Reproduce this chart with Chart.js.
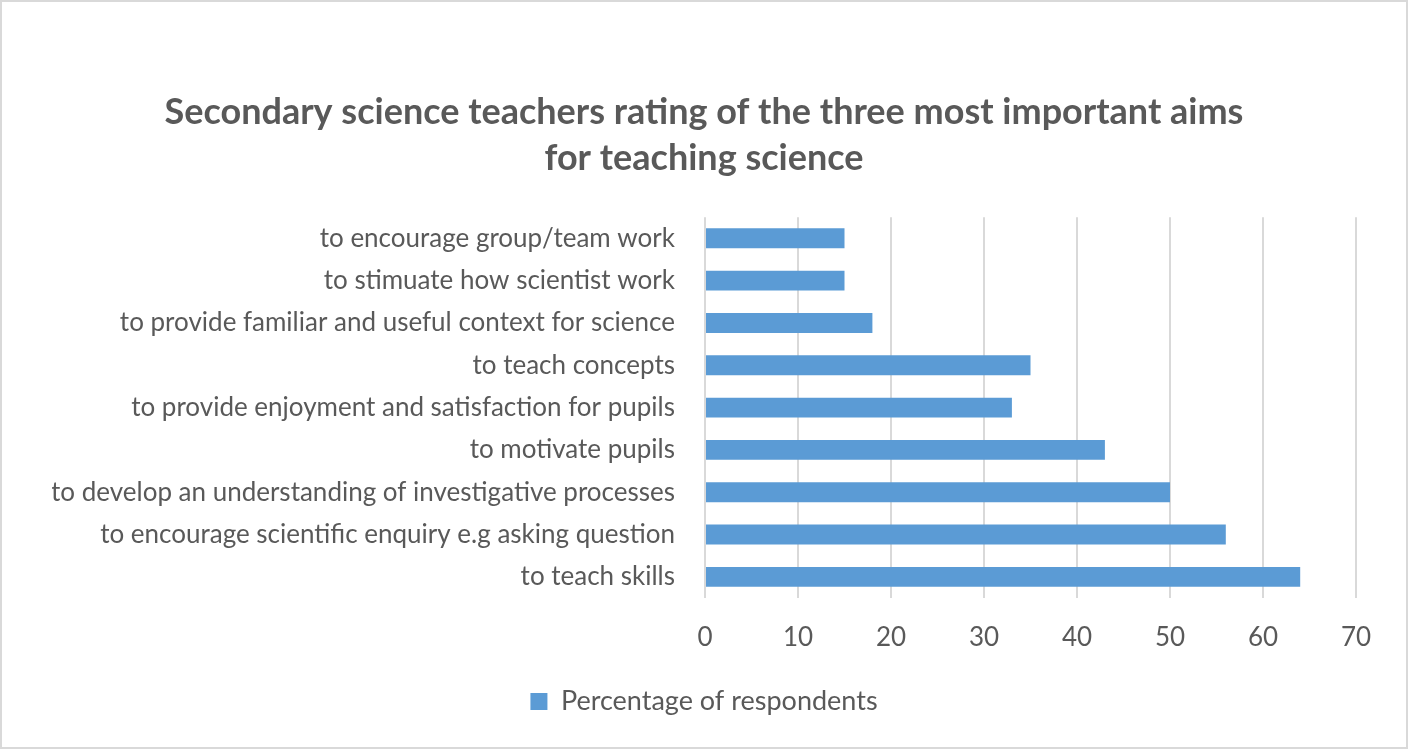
<!DOCTYPE html>
<html>
<head>
<meta charset="utf-8">
<script src="https://cdn.jsdelivr.net/npm/chart.js@4.4.1/dist/chart.umd.min.js"></script>
<style>
  html, body { margin: 0; padding: 0; background: #fff; }
  #wrap { width: 1408px; height: 749px; position: relative; }
</style>
</head>
<body>
<div id="wrap"><canvas id="c" width="1408" height="749"></canvas></div>
<script>
// categories, top to bottom as in the picture
const aims = [
  'to encourage group/team work',
  'to stimuate how scientist work',
  'to provide familiar and useful context for science',
  'to teach concepts',
  'to provide enjoyment and satisfaction for pupils',
  'to motivate pupils',
  'to develop an understanding of investigative processes',
  'to encourage scientific enquiry e.g asking question',
  'to teach skills'
];
const percentRespondents = [15, 15, 18, 35, 33, 43, 50, 56, 64];
const xTicks = [0, 10, 20, 30, 40, 50, 60, 70];

const grey = '#595959';
const font = "Lato, 'Liberation Sans', sans-serif";

// light grey frame round the whole chart
const frame = {
  id: 'frame',
  afterDraw(chart) {
    const ctx = chart.ctx;
    ctx.save();
    ctx.strokeStyle = '#d9d9d9';
    ctx.lineWidth = 2;
    ctx.strokeRect(1, 1, chart.width - 2, chart.height - 2);
    ctx.restore();
  }
};

Chart.defaults.font.family = font;
Chart.defaults.color = grey;

new Chart(document.getElementById('c'), {
  type: 'bar',
  data: {
    labels: aims,
    datasets: [{
      label: 'Percentage of respondents',
      data: percentRespondents,
      backgroundColor: '#5b9bd5',
      barPercentage: 0.47,
      categoryPercentage: 1.0
    }]
  },
  options: {
    indexAxis: 'y',
    responsive: false,
    animation: false,
    layout: { padding: { top: 89, right: 52, bottom: 24, left: 52 } },
    plugins: {
      title: {
        display: true,
        text: ['Secondary science teachers rating of the three most important aims', 'for teaching science'],
        color: grey,
        font: { size: 36, weight: 'bold', lineHeight: 1.28 },
        padding: { top: 0, bottom: 36 }
      },
      legend: {
        position: 'bottom',
        labels: {
          color: grey,
          font: { size: 27 },
          boxWidth: 17,
          boxHeight: 17,
          padding: 10
        }
      },
      tooltip: { enabled: false }
    },
    scales: {
      x: {
        min: 0,
        max: 70,
        afterBuildTicks(axis) { axis.ticks = xTicks.map(v => ({ value: v })); },
        afterFit(axis) { axis.height = 80; },
        grid: { color: '#d9d9d9', lineWidth: 2, drawTicks: false },
        border: { display: false },
        ticks: { color: grey, font: { size: 26 }, padding: 24 }
      },
      y: {
        afterFit(axis) { axis.width = 653; },
        grid: { display: false, drawTicks: false },
        border: { display: false },
        ticks: { color: grey, font: { size: 26 }, padding: 30, autoSkip: false }
      }
    }
  },
  plugins: [frame]
});
</script>
</body>
</html>
